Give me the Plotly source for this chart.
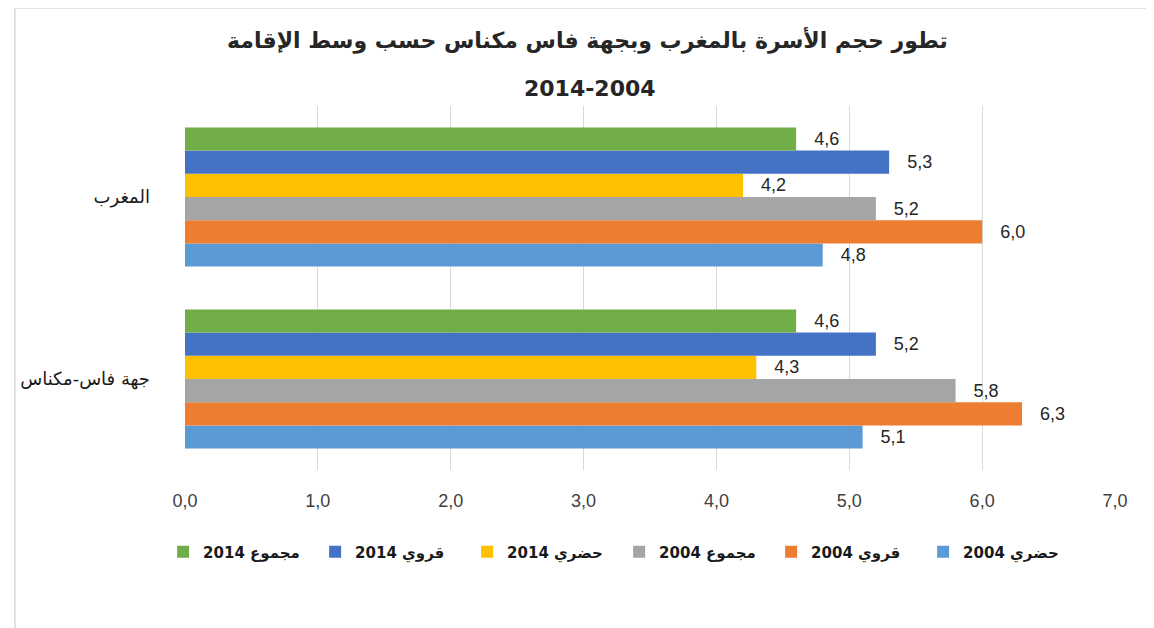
import plotly.graph_objects as go

categories = ["جهة فاس-مكناس", "المغرب"]
series_names = ["2004 حضري", "2004 قروي", "2004 مجموع", "2014 حضري", "2014 قروي", "2014 مجموع"]
urban_2004 = [5.1, 4.8]
rural_2004 = [6.3, 6.0]
total_2004 = [5.8, 5.2]
urban_2014 = [4.3, 4.2]
rural_2014 = [5.2, 5.3]
total_2014 = [4.6, 4.6]
x_ticks = [0, 1, 2, 3, 4, 5, 6, 7]

series_values = [urban_2004, rural_2004, total_2004, urban_2014, rural_2014, total_2014]
colors = ["#5B9BD5", "#ED7D31", "#A5A5A5", "#FFC000", "#4472C4", "#70AD47"]

num_font = "Liberation Sans Narrow, Liberation Sans, Arial, sans-serif"

fig = go.Figure()
for name, vals, col in zip(series_names, series_values, colors):
    fig.add_trace(go.Bar(
        y=categories, x=vals, name=name, orientation="h",
        marker=dict(color=col, line=dict(width=0)),
        text=vals, texttemplate="   %{x:.1f}", textposition="outside",
        textfont=dict(family=num_font, size=18, color="#262626"),
        cliponaxis=False,
    ))

OFFX, OFFY = 8, 8  # page body margin offsets
W, H = 1154, 628
L, T = 180 - OFFX, 106 - OFFY
R = W - (1115 - OFFX)
B = H - (470 - OFFY)
pw, ph = W - L - R, H - T - B

def px_x(px):
    return (px - OFFX - L) / pw

def px_y(py):
    return (H - B - (py - OFFY)) / ph

fig.update_layout(
    width=W, height=H,
    margin=dict(l=L, r=R, t=T, b=B),
    paper_bgcolor="white", plot_bgcolor="white",
    barmode="group", bargap=0.235, bargroupgap=0,
    separators=",.",
    showlegend=True,
    legend=dict(orientation="h", traceorder="reversed",
                x=px_x(158), xanchor="left", y=px_y(552), yanchor="middle",
                font=dict(family="DejaVu Sans", size=15, color="#1a1a1a", weight="bold"),
                itemwidth=30, entrywidth=107, entrywidthmode="pixels"),
    xaxis=dict(range=[0, 7], tickvals=x_ticks, tickformat=".1f",
               showgrid=True, gridcolor="#D9D9D9", gridwidth=1,
               zeroline=False, showline=False, ticks="",
               ticklabelstandoff=18,
               tickfont=dict(family=num_font, size=18, color="#404040")),
    yaxis=dict(showgrid=False, zeroline=False, showline=False, ticks="",
               ticklabelstandoff=34,
               tickfont=dict(family="DejaVu Sans, Liberation Sans", size=18, color="#1a1a1a")),
    annotations=[
        dict(text="<b>تطور حجم الأسرة بالمغرب وبجهة فاس مكناس حسب وسط الإقامة</b>",
             xref="paper", yref="paper", x=px_x(585), y=px_y(40),
             xanchor="center", yanchor="middle", showarrow=False,
             font=dict(family="DejaVu Sans", size=22, color="#262626")),
        dict(text="<b>2014-2004</b>",
             xref="paper", yref="paper", x=px_x(587), y=px_y(89),
             xanchor="center", yanchor="middle", showarrow=False,
             font=dict(family="DejaVu Sans", size=22, color="#262626")),
    ],
    shapes=[
        dict(type="rect", xref="paper", yref="paper",
             x0=px_x(9), x1=px_x(1200), y0=px_y(700), y1=px_y(8),
             line=dict(color="#D9D9D9", width=1.5), fillcolor="rgba(0,0,0,0)",
             layer="below"),
    ],
)

fig.write_html("out.html")
